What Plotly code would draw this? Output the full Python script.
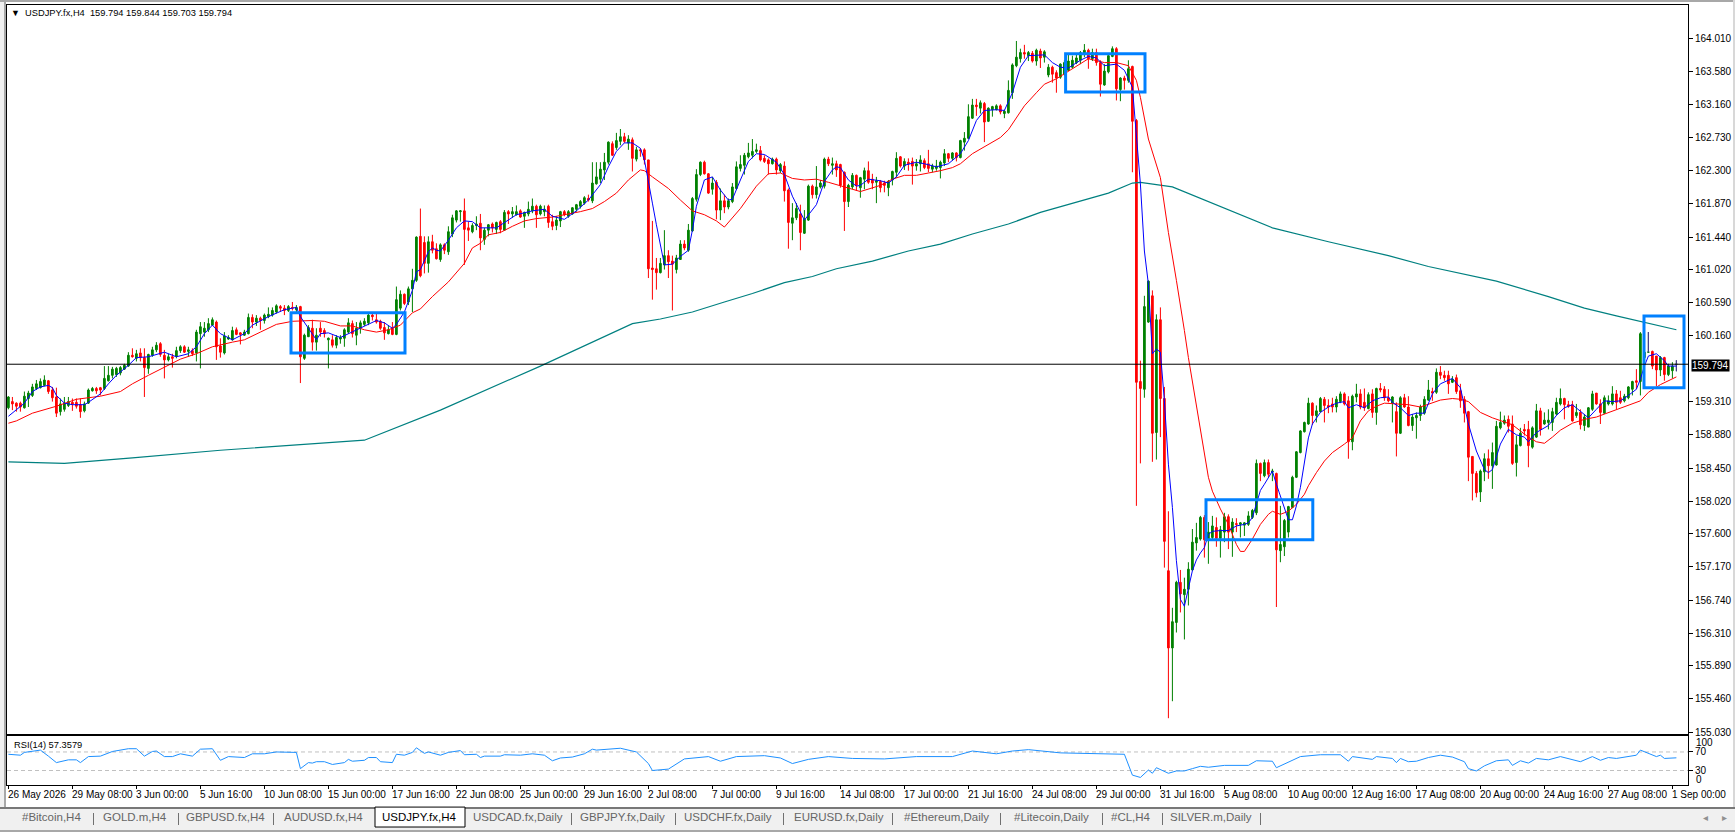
import plotly.graph_objects as go

# ---------- candle values, one row per 16-bar interval between time labels ----------
OPEN = [
159.23,159.31,159.29,159.29,159.23,159.35,159.39,159.48,159.49,159.52,159.58,159.46,159.37,159.18,159.21,159.26,
159.30,159.30,159.27,159.19,159.29,159.45,159.48,159.49,159.48,159.58,159.65,159.66,159.68,159.73,159.77,159.91,
159.87,159.94,159.88,159.74,159.91,159.98,160.06,159.91,159.85,159.89,159.90,159.97,160.02,159.96,159.97,159.94,
160.19,160.21,160.24,160.30,160.34,160.03,159.94,160.12,160.11,160.24,160.20,160.17,160.19,160.40,160.34,160.39,
160.36,160.41,160.43,160.47,160.54,160.52,160.49,160.53,160.50,160.54,159.87,160.15,160.26,160.08,160.26,160.23,
160.11,160.11,160.04,160.12,160.13,160.21,160.32,160.17,160.26,160.31,160.33,160.43,160.37,160.35,160.27,160.19,
160.26,160.18,160.52,160.70,160.60,160.77,160.88,161.45,161.37,161.10,161.38,161.29,161.15,161.34,161.25,161.48,
161.66,161.77,161.78,161.56,161.51,161.59,161.62,161.41,161.53,161.61,161.54,161.64,161.53,161.77,161.74,161.73,
161.78,161.71,161.74,161.78,161.84,161.74,161.77,161.84,161.64,161.59,161.65,161.77,161.71,161.74,161.80,161.84,
161.88,161.94,161.91,162.13,162.19,162.31,162.41,162.65,162.60,162.68,162.74,162.66,162.70,162.45,162.57,162.57,
162.44,161.04,161.03,160.98,161.08,161.20,161.13,161.02,161.15,161.35,161.27,161.52,161.93,162.25,162.41,162.26,
162.06,162.15,161.79,161.91,161.83,161.90,162.07,162.33,162.37,162.48,162.50,162.55,162.56,162.46,162.44,162.39,
162.45,162.30,162.36,162.05,161.62,161.69,161.74,161.49,161.66,162.10,161.99,162.09,162.10,162.45,162.37,162.39,
162.38,162.28,161.90,162.09,162.24,162.08,162.19,162.30,162.19,162.15,162.16,162.14,162.08,162.18,162.28,162.48,
162.36,162.41,162.42,162.36,162.39,162.43,162.39,162.32,162.33,162.34,162.40,162.52,162.46,162.53,162.47,162.67,
162.72,162.98,163.15,163.11,163.17,162.94,163.09,163.09,163.14,163.04,163.05,163.31,163.66,163.75,163.83,163.79,
163.82,163.72,163.85,163.77,163.54,163.64,163.57,163.51,163.55,163.60,163.64,163.70,163.73,163.81,163.86,163.75,
163.83,163.70,163.41,163.58,163.78,163.88,163.35,163.50,163.47,163.65,162.95,159.57,159.47,160.34,160.68,158.91,
160.37,159.35,157.12,156.12,156.45,156.97,156.81,156.88,157.13,157.48,157.53,157.81,157.53,157.55,157.68,157.54,
157.62,157.82,157.62,157.73,157.72,157.71,157.72,157.81,157.87,158.51,158.35,158.52,158.40,158.38,157.38,157.43,
157.62,157.94,158.33,158.65,158.92,159.02,159.29,159.13,159.18,159.34,159.26,159.28,159.24,159.31,159.41,159.32,
158.79,159.37,159.41,159.30,159.22,159.41,159.17,159.48,159.47,159.36,159.29,159.18,158.90,159.36,159.24,159.00,
159.10,159.13,159.16,159.33,159.44,159.43,159.69,159.65,159.65,159.56,159.62,159.45,159.34,159.18,158.60,158.38,
158.14,158.40,158.57,158.48,158.49,158.97,159.03,159.08,159.02,158.52,158.74,158.95,158.95,158.72,158.85,159.19,
159.02,159.04,159.04,159.15,159.28,159.35,159.27,159.27,159.13,159.17,159.00,158.98,159.21,159.42,159.28,159.16,
159.28,159.28,159.41,159.36,159.32,159.36,159.47,159.58,159.57,159.88,159.95,159.96,159.90,159.72,159.88,159.66,
159.71,159.794]
HIGH = [
159.38,159.37,159.30,159.31,159.44,159.45,159.54,159.59,159.61,159.65,159.59,159.50,159.49,159.35,159.37,159.37,
159.35,159.35,159.35,159.31,159.48,159.50,159.50,159.50,159.77,159.77,159.76,159.76,159.77,159.80,159.95,160.00,
159.98,160.00,160.00,159.93,160.02,160.08,160.08,159.98,159.93,159.93,160.02,160.04,160.04,160.02,160.00,160.24,
160.34,160.34,160.39,160.40,160.36,160.13,160.21,160.17,160.28,160.27,160.21,160.24,160.45,160.44,160.43,160.41,
160.45,160.53,160.53,160.57,160.56,160.56,160.56,160.60,160.56,160.55,160.19,160.30,160.37,160.26,160.34,160.26,
160.14,160.17,160.17,160.17,160.26,160.39,160.36,160.34,160.36,160.39,160.45,160.45,160.45,160.37,160.34,160.30,
160.34,160.80,160.75,160.71,160.80,161.03,161.45,161.81,161.45,161.45,161.47,161.36,161.36,161.36,161.58,161.73,
161.79,161.79,161.94,161.64,161.62,161.71,161.74,161.56,161.61,161.63,161.64,161.66,161.79,161.79,161.83,161.85,
161.80,161.77,161.90,161.94,161.86,161.86,161.85,161.86,161.73,161.71,161.78,161.79,161.79,161.83,161.87,161.92,
161.97,161.99,162.41,162.41,162.41,162.53,162.68,162.68,162.79,162.84,162.79,162.76,162.73,162.61,162.59,162.59,
162.44,161.65,161.17,161.17,161.53,161.27,161.20,161.21,161.40,161.40,161.61,161.96,162.32,162.42,162.43,162.27,
162.22,162.18,162.07,161.99,161.94,162.14,162.42,162.50,162.53,162.66,162.71,162.65,162.62,162.50,162.46,162.47,
162.47,162.40,162.42,162.07,161.88,161.88,161.86,161.79,162.12,162.12,162.36,162.18,162.47,162.48,162.47,162.43,
162.39,162.29,162.13,162.27,162.25,162.22,162.34,162.42,162.26,162.22,162.18,162.17,162.18,162.30,162.54,162.49,
162.46,162.46,162.47,162.45,162.50,162.46,162.57,162.39,162.44,162.43,162.58,162.53,162.54,162.54,162.70,162.80,
163.16,163.23,163.23,163.21,163.19,163.12,163.14,163.16,163.16,163.09,163.47,163.69,163.98,163.88,163.93,163.85,
163.85,163.88,163.88,163.86,163.68,163.66,163.60,163.69,163.73,163.81,163.79,163.81,163.85,163.94,163.88,163.88,
163.88,163.73,163.68,163.81,163.91,163.90,163.51,163.53,163.73,163.66,162.97,159.84,160.68,160.88,160.75,160.44,
160.53,159.50,157.89,156.64,156.99,157.13,157.03,157.23,157.66,157.74,157.83,157.84,157.75,157.83,157.81,157.70,
157.87,157.85,157.80,157.80,157.75,157.75,157.89,157.92,158.56,158.52,158.56,158.56,158.44,158.39,157.96,157.79,
157.96,158.35,158.67,158.94,159.05,159.36,159.30,159.26,159.37,159.37,159.34,159.36,159.38,159.44,159.43,159.38,
159.40,159.54,159.47,159.48,159.43,159.47,159.49,159.55,159.51,159.47,159.38,159.30,159.38,159.41,159.38,159.15,
159.17,159.27,159.38,159.59,159.49,159.74,159.77,159.71,159.71,159.64,159.66,159.54,159.38,159.19,158.60,158.41,
158.43,158.64,158.69,158.78,159.06,159.18,159.13,159.13,159.13,158.87,158.97,159.02,159.06,158.99,159.28,159.23,
159.17,159.21,159.23,159.36,159.48,159.36,159.32,159.32,159.28,159.21,159.15,159.24,159.45,159.42,159.34,159.39,
159.39,159.51,159.46,159.45,159.41,159.51,159.58,159.73,160.21,160.19,160.21,159.97,159.90,159.90,159.89,159.80,
159.82,159.844]
LOW = [
159.21,159.20,159.18,159.18,159.22,159.24,159.37,159.46,159.48,159.51,159.41,159.31,159.11,159.13,159.18,159.24,
159.19,159.22,159.10,159.17,159.28,159.44,159.41,159.39,159.46,159.57,159.61,159.63,159.65,159.72,159.76,159.88,
159.83,159.83,159.37,159.67,159.89,159.95,159.89,159.61,159.83,159.75,159.87,159.94,159.94,159.89,159.90,159.83,
159.74,160.15,160.21,160.29,159.85,159.88,159.92,160.11,160.10,160.17,160.05,160.16,160.18,160.26,160.29,160.24,
160.32,160.39,160.41,160.45,160.47,160.43,160.47,160.49,160.47,159.55,159.85,160.15,159.97,159.97,160.15,160.14,
159.74,160.01,160.00,160.06,160.02,160.19,160.14,160.04,160.19,160.29,160.30,160.36,160.32,160.24,160.11,160.18,
160.17,160.17,160.49,160.56,160.56,160.47,160.86,160.92,160.97,160.98,161.23,161.15,161.12,161.22,161.21,161.44,
161.63,161.64,161.08,161.39,161.49,161.53,161.27,161.34,161.45,161.50,161.48,161.49,161.52,161.61,161.69,161.72,
161.69,161.56,161.71,161.75,161.56,161.72,161.71,161.56,161.53,161.53,161.57,161.71,161.69,161.73,161.77,161.81,
161.86,161.90,161.88,162.12,162.14,162.18,162.38,162.49,162.57,162.63,162.66,162.57,162.29,162.42,162.48,162.38,
160.91,160.63,160.76,160.97,161.02,160.91,160.49,160.97,161.15,161.27,161.25,161.51,161.90,162.23,162.25,162.00,
161.99,161.67,161.66,161.75,161.80,161.88,162.05,162.29,162.25,162.46,162.46,162.53,162.42,162.40,162.25,162.38,
162.25,162.27,161.90,161.29,161.40,161.66,161.27,161.48,161.65,161.94,161.94,162.07,162.07,162.36,162.25,162.22,
162.08,161.52,161.83,162.06,162.04,161.95,162.06,162.13,162.06,161.88,162.02,162.02,161.97,162.11,162.21,162.34,
162.31,162.30,162.12,162.30,162.29,162.32,162.28,162.28,162.30,162.20,162.36,162.41,162.43,162.42,162.46,162.56,
162.71,162.97,163.01,163.04,162.67,162.93,163.00,163.08,163.03,162.98,163.04,163.23,163.64,163.70,163.75,163.72,
163.70,163.66,163.63,163.70,163.51,163.44,163.31,163.49,163.53,163.59,163.62,163.68,163.68,163.77,163.62,163.72,
163.66,163.26,163.40,163.56,163.77,163.21,163.20,163.35,163.44,162.28,157.96,158.51,159.36,160.33,158.53,158.56,
158.85,157.16,155.21,155.43,156.32,156.58,156.23,156.67,157.12,157.38,157.51,157.29,157.21,157.53,157.43,157.29,
157.49,157.40,157.30,157.62,157.55,157.57,157.70,157.79,157.84,158.28,158.33,158.33,158.28,156.65,157.23,157.31,
157.55,157.93,158.32,158.64,158.91,159.01,159.01,159.04,159.17,159.04,159.16,159.17,159.17,159.29,159.26,158.57,
158.68,159.30,159.21,159.19,159.21,159.10,159.01,159.43,159.32,159.30,159.04,158.60,158.89,159.23,158.99,158.93,
158.83,159.06,159.14,159.32,159.32,159.41,159.60,159.58,159.41,159.55,159.41,159.23,159.04,158.28,158.03,158.07,
158.01,158.28,158.31,158.18,158.48,158.95,159.01,158.91,158.49,158.34,158.73,158.87,158.46,158.70,158.84,158.87,
159.01,158.95,158.93,159.13,159.26,159.08,159.23,159.05,159.10,158.95,158.93,158.98,159.19,159.27,159.02,159.15,
159.26,159.26,159.21,159.28,159.30,159.34,159.39,159.47,159.39,159.75,159.95,159.73,159.51,159.64,159.58,159.64,
159.61,159.703]
CLOSE = [
159.37,159.28,159.25,159.24,159.38,159.42,159.50,159.54,159.57,159.59,159.44,159.36,159.16,159.28,159.29,159.31,
159.28,159.25,159.18,159.28,159.46,159.48,159.45,159.46,159.61,159.65,159.73,159.74,159.75,159.78,159.91,159.89,
159.93,159.88,159.75,159.92,159.98,160.04,159.92,159.85,159.89,159.87,159.97,160.02,159.95,159.98,159.93,160.21,
160.28,160.26,160.32,160.37,160.02,159.95,160.16,160.14,160.23,160.18,160.18,160.21,160.40,160.34,160.39,160.36,
160.43,160.44,160.49,160.55,160.52,160.49,160.54,160.52,160.53,159.89,160.17,160.27,160.08,160.17,160.21,160.19,
160.13,160.04,160.14,160.14,160.24,160.33,160.19,160.26,160.33,160.35,160.43,160.41,160.34,160.26,160.20,160.24,
160.18,160.63,160.70,160.58,160.77,160.88,161.44,160.94,161.10,161.38,161.27,161.16,161.34,161.27,161.51,161.69,
161.78,161.78,161.54,161.53,161.59,161.61,161.43,161.53,161.60,161.56,161.63,161.54,161.76,161.74,161.77,161.77,
161.70,161.76,161.80,161.84,161.73,161.84,161.80,161.63,161.58,161.66,161.77,161.73,161.77,161.82,161.86,161.90,
161.95,161.92,162.14,162.22,162.32,162.41,162.67,162.50,162.69,162.74,162.68,162.71,162.46,162.57,162.56,162.44,
161.03,161.02,160.98,161.10,161.20,161.12,161.09,161.17,161.35,161.30,161.53,161.94,162.25,162.41,162.26,162.01,
162.14,161.79,161.91,161.83,161.91,162.09,162.35,162.38,162.50,162.53,162.55,162.57,162.44,162.42,162.39,162.45,
162.31,162.38,162.04,161.63,161.69,161.81,161.50,161.67,162.10,161.99,162.09,162.14,162.45,162.39,162.39,162.31,
162.11,161.90,162.11,162.24,162.11,162.21,162.30,162.15,162.14,162.17,162.08,162.11,162.16,162.29,162.46,162.36,
162.42,162.39,162.36,162.39,162.44,162.34,162.33,162.36,162.36,162.41,162.52,162.46,162.53,162.47,162.69,162.72,
163.00,163.15,163.13,163.18,162.93,163.11,163.13,163.14,163.06,163.07,163.34,163.67,163.77,163.83,163.81,163.83,
163.72,163.86,163.76,163.84,163.64,163.55,163.50,163.68,163.70,163.72,163.73,163.76,163.83,163.86,163.75,163.83,
163.70,163.42,163.59,163.79,163.88,163.36,163.50,163.47,163.62,162.94,159.56,159.48,160.54,160.87,158.90,160.37,
159.35,157.50,156.12,156.46,156.97,156.82,156.88,157.14,157.49,157.55,157.81,157.52,157.62,157.70,157.54,157.65,
157.82,157.62,157.75,157.72,157.74,157.74,157.83,157.90,158.51,158.38,158.52,158.37,158.41,157.39,157.46,157.77,
157.95,158.33,158.66,158.93,159.04,159.29,159.13,159.19,159.35,159.26,159.24,159.24,159.34,159.41,159.28,158.79,
159.38,159.41,159.24,159.23,159.40,159.17,159.48,159.46,159.36,159.32,159.37,158.90,159.36,159.24,159.00,159.11,
159.13,159.24,159.34,159.46,159.42,159.69,159.65,159.62,159.54,159.60,159.44,159.32,159.16,158.59,158.38,158.13,
158.41,158.57,158.48,158.65,158.99,159.04,159.07,158.99,158.51,158.75,158.90,158.93,158.74,158.97,159.19,158.95,
159.07,159.07,159.18,159.30,159.35,159.27,159.25,159.06,159.17,159.01,159.11,159.23,159.41,159.28,159.17,159.36,
159.32,159.41,159.30,159.30,159.38,159.50,159.57,159.56,160.19,159.95,159.95,159.77,159.72,159.88,159.66,159.77,
159.77,159.794]
assert len(OPEN) == len(HIGH) == len(LOW) == len(CLOSE) == 418
BARS = list(range(len(OPEN)))
DOJI_BARS = [410, 417]

# ---------- moving averages: (bar, price) ----------
BLUE_BAR = [0,4,6,8,10,11,12,14,16,19,20,23,25,27,30,32,35,39,42,45,47,49,51,53,56,59,61,65,69,72,73,77,78,80,83,85,88,92,94,96,97,99,101,102,
103,105,106,107,108,110,112,114,116,118,122,125,127,131,134,136,139,142,145,148,150,152,154,156,158,159,160,161,162,163,164,166,168,170,171,172,173,174,176,178,180,181,183,185,187,189,192,194,196,199,202,204,206,207,
208,210,212,213,215,218,220,222,224,227,229,232,235,238,240,242,244,247,249,251,253,255,259,261,263,265,268,270,272,274,277,279,281,282,283,284,285,286,287,288,289,290,291,292,293,294,295,296,297,298,
299,300,301,303,305,307,309,310,311,312,313,314,315,316,317,318,319,320,321,322,323,324,325,326,328,330,332,334,335,337,339,341,343,345,346,348,350,352,354,356,358,361,363,365,367,369,370,371,373,375,377,379,380,382,385,
387,389,391,393,395,397,399,401,403,405,407,408,409,410,412,414,415,417]
BLUE_VAL = [159.12,159.29,159.44,159.50,159.52,159.49,159.39,159.29,159.27,159.27,159.30,159.41,159.54,159.65,159.78,159.88,159.89,159.95,159.89,159.93,160.02,160.19,160.30,160.19,160.11,160.19,160.30,160.41,160.50,160.53,160.41,160.11,160.19,160.20,160.14,160.19,160.27,160.36,160.33,160.26,160.31,160.47,160.75,160.99,
161.02,161.25,161.30,161.27,161.26,161.40,161.56,161.65,161.64,161.56,161.56,161.66,161.73,161.78,161.80,161.71,161.67,161.78,161.92,162.12,162.35,162.55,162.66,162.66,162.59,162.44,162.18,161.88,161.60,161.34,161.08,161.09,161.19,161.27,161.53,161.84,162.01,162.18,162.22,162.05,161.92,161.93,162.18,162.42,162.52,162.51,162.41,162.25,161.97,161.66,161.86,162.16,162.31,162.35,
162.34,162.18,162.10,162.11,162.19,162.17,162.14,162.22,162.37,162.41,162.39,162.35,162.39,162.52,162.69,162.95,163.08,163.09,163.08,163.31,163.64,163.79,163.80,163.70,163.64,163.63,163.73,163.78,163.76,163.66,163.68,163.60,163.38,162.73,162.13,161.26,160.83,159.93,159.99,159.95,159.32,158.50,157.94,157.25,156.75,156.66,156.88,157.12,157.26,157.35,
157.42,157.59,157.63,157.64,157.64,157.70,157.72,157.74,157.81,157.98,158.16,158.24,158.33,158.41,158.24,158.09,157.92,157.78,157.78,157.96,158.20,158.50,158.84,159.02,159.17,159.24,159.29,159.31,159.23,159.27,159.23,159.32,159.36,159.37,159.30,159.23,159.13,159.16,159.16,159.41,159.54,159.61,159.49,159.02,158.67,158.43,158.39,158.43,158.76,158.95,158.88,158.85,158.79,158.91,159.00,
159.13,159.23,159.27,159.19,159.10,159.21,159.32,159.31,159.32,159.39,159.47,159.60,159.77,159.90,159.93,159.84,159.77,159.77]
RED_BAR = [0,2,6,12,17,23,28,31,35,39,43,47,51,56,59,63,67,71,76,79,83,86,89,92,95,98,101,103,106,110,114,116,118,120,123,126,129,132,136,139,143,146,149,152,155,158,159,161,165,168,171,174,177,179,183,187,190,193,196,199,202,205,207,
208,213,218,221,224,227,230,233,236,238,241,245,248,250,252,254,257,259,262,266,270,274,277,280,282,283,285,288,290,292,293,294,295,296,298,300,301,303,305,307,308,309,311,313,315,316,318,320,322,324,325,327,329,331,334,336,338,340,342,344,347,350,353,356,358,361,363,365,368,371,374,376,378,380,382,384,386,388,391,394,397,402,405,408,410,413,417]
RED_VAL = [159.03,159.06,159.16,159.25,159.34,159.38,159.44,159.54,159.65,159.76,159.86,159.93,160.02,160.08,160.11,160.21,160.31,160.35,160.36,160.35,160.29,160.29,160.24,160.21,160.24,160.30,160.46,160.51,160.67,160.86,161.10,161.30,161.36,161.47,161.50,161.58,161.65,161.68,161.70,161.73,161.77,161.81,161.90,162.01,162.18,162.31,162.30,162.22,162.07,161.92,161.78,161.73,161.65,161.57,161.81,162.10,162.26,162.27,162.20,162.18,162.19,162.15,162.12,
162.10,162.03,162.11,162.19,162.24,162.24,162.27,162.30,162.34,162.39,162.52,162.64,162.73,162.83,162.99,163.14,163.31,163.42,163.49,163.62,163.75,163.70,163.70,163.66,163.47,163.25,162.71,162.21,161.50,160.88,160.57,160.23,159.88,159.56,158.93,158.33,158.15,157.92,157.72,157.46,157.37,157.37,157.53,157.72,157.85,157.89,157.85,157.89,157.98,158.11,158.22,158.39,158.54,158.65,158.76,158.84,159.06,159.19,159.25,159.29,159.28,159.27,159.24,159.30,159.33,159.35,159.34,159.31,159.17,159.10,159.04,159.01,158.93,158.85,158.79,158.77,158.85,158.94,159.03,159.08,159.11,159.21,159.26,159.32,159.43,159.53,159.63]
TEAL_BAR = [0,14,31,53,89,108,133,156,163,171,179,186,194,201,207,216,225,233,241,250,258,266,275,281,283,291,316,330,345,355,372,385,394,402,409,417]
TEAL_VAL = [158.53,158.51,158.58,158.68,158.81,159.20,159.77,160.32,160.38,160.47,160.60,160.71,160.85,160.93,161.03,161.13,161.26,161.35,161.48,161.61,161.76,161.88,162.01,162.14,162.15,162.09,161.56,161.38,161.20,161.06,160.87,160.67,160.52,160.42,160.34,160.24]

# ---------- RSI(14) ----------
RSI_BAR = [0,3,4,7,8,10,12,15,17,18,20,23,26,30,32,34,36,37,39,41,43,46,48,51,53,55,59,61,64,67,72,73,75,76,77,79,81,84,85,86,89,90,92,93,96,97,99,101,102,104,105,108,110,113,114,117,118,119,123,124,128,131,134,136,138,141,144,146,
147,153,157,160,161,165,169,175,178,182,189,193,196,200,205,211,219,227,236,241,247,251,255,263,272,279,
281,283,285,286,287,290,292,294,296,298,300,304,310,312,316,317,323,328,333,335,336,341,342,346,347,348,350,352,355,358,361,364,365,367,369,372,375,376,378,380,382,385,388,393,396,398,400,402,407,408,412,413,414,417]
RSI_VAL = [65,63,69,72,74,61,47,53,53,47,60,61,71,77,77,61,71,72,60,60,66,61,76,77,52,60,58,66,66,70,69,34,47,46,49,49,43,47,54,50,52,58,58,49,47,65,63,69,79,67,70,63,69,73,64,65,58,61,61,64,63,66,63,51,57,59,66,76,
74,78,70,45,30,33,55,60,50,60,62,57,45,54,60,56,55,60,60,72,66,72,75,68,67,65,
20,15,31,24,36,24,29,29,34,39,37,41,41,51,50,36,60,64,64,50,60,54,60,56,47,56,49,50,58,63,59,49,34,29,40,51,53,41,51,46,56,53,60,49,60,52,58,56,63,74,60,63,56,57.36]
RSI_LEVELS = [70, 30]

# ---------- axis labels ----------
TIME_LABELS = ["26 May 2026","29 May 08:00","3 Jun 00:00","5 Jun 16:00","10 Jun 08:00","15 Jun 00:00","17 Jun 16:00",
    "22 Jun 08:00","25 Jun 00:00","29 Jun 16:00","2 Jul 08:00","7 Jul 00:00","9 Jul 16:00","14 Jul 08:00","17 Jul 00:00",
    "21 Jul 16:00","24 Jul 08:00","29 Jul 00:00","31 Jul 16:00","5 Aug 08:00","10 Aug 00:00","12 Aug 16:00","17 Aug 08:00",
    "20 Aug 00:00","24 Aug 16:00","27 Aug 08:00","1 Sep 00:00"]
TIME_TICK_BARS = [i * 16 for i in range(len(TIME_LABELS))]
PRICE_TICKS = [164.010,163.580,163.160,162.730,162.300,161.870,161.440,161.020,160.590,160.160,159.310,158.880,158.450,
    158.020,157.600,157.170,156.740,156.310,155.890,155.460,155.030]
LAST_PRICE = 159.794
HEADER = "USDJPY.fx,H4  159.794 159.844 159.703 159.794"
RSI_TITLE = "RSI(14) 57.3579"
TABS = ["#Bitcoin,H4","GOLD.m,H4","GBPUSD.fx,H4","AUDUSD.fx,H4","USDJPY.fx,H4","USDCAD.fx,Daily","GBPJPY.fx,Daily",
    "USDCHF.fx,Daily","EURUSD.fx,Daily","#Ethereum,Daily","#Litecoin,Daily","#CL,H4","SILVER.m,Daily"]
TAB_CENTERS = [51,135,225,323,419,518,622,728,839,946,1051,1131,1211]
TAB_SEPS = [93,178,273,571,675,783,892,1000,1102,1162,1260]

# rectangles the author drew on the chart: bar range, price range
BOX_BAR_L = [70.65,264.3,299.4,408.9]
BOX_BAR_R = [99.15,284.15,326.1,418.9]
BOX_TOP = [160.46,163.816,158.04,160.42]
BOX_BOT = [159.94,163.32,157.52,159.49]

W, H = 1735, 836
FONT = "Liberation Sans"
px = lambda x: x / W
py = lambda y: 1 - y / H
GREEN, RED = "#008000", "#ff0000"

fig = go.Figure()
fig.add_trace(go.Candlestick(
    x=BARS, open=OPEN, high=HIGH, low=LOW, close=CLOSE, xaxis="x", yaxis="y", whiskerwidth=0,
    increasing=dict(line=dict(color=GREEN, width=1), fillcolor=GREEN),
    decreasing=dict(line=dict(color=RED, width=1), fillcolor=RED), showlegend=False))
dx, dy = [], []
for b in DOJI_BARS:
    dx += [b, b, None]
    dy += [HIGH[b], LOW[b], None]
fig.add_trace(go.Scatter(x=dx, y=dy, mode="lines", line=dict(color="#483d8b", width=1.2), showlegend=False))
fig.add_trace(go.Scatter(x=TEAL_BAR, y=TEAL_VAL, mode="lines", line=dict(color="#008080", width=1.2), showlegend=False))
fig.add_trace(go.Scatter(x=RED_BAR, y=RED_VAL, mode="lines", line=dict(color=RED, width=1), showlegend=False))
fig.add_trace(go.Scatter(x=BLUE_BAR, y=BLUE_VAL, mode="lines", line=dict(color="#0000ff", width=1), showlegend=False))
fig.add_trace(go.Scatter(x=RSI_BAR, y=RSI_VAL, mode="lines", xaxis="x2", yaxis="y2",
                         line=dict(color="#1e90ff", width=1), showlegend=False))

shapes = []
def rect(x0, y0, x1, y1, fill, line=None, layer="below"):
    shapes.append(dict(type="rect", xref="paper", yref="paper", x0=px(x0), x1=px(x1), y0=py(y0), y1=py(y1),
                       fillcolor=fill, line=dict(width=0 if line is None else 1, color=line or fill), layer=layer))
rect(0, 0, 4, 810, "#f0f0f0")
rect(4, 0, 6, 810, "#a8a8a8")
rect(0, 0, 1735, 2, "#a8a8a8")
rect(1733, 0, 1735, 810, "#d8d8d8")
rect(0, 810, 1735, 833, "#f0f0f0")
rect(0, 810.5, 1735, 811.5, "#000000")
rect(0, 833, 1735, 835, "#a8a8a8")
rect(375, 810, 465, 830, "#ffffff", "#000000", layer="above")
for s in TAB_SEPS:
    rect(s, 816, s + 1, 828, "#707070")
for l, r, t, b in zip(BOX_BAR_L, BOX_BAR_R, BOX_TOP, BOX_BOT):
    shapes.append(dict(type="rect", xref="x", yref="y", x0=l, x1=r, y0=b, y1=t,
                       line=dict(color="#0080ff", width=3), layer="above"))
shapes.append(dict(type="line", xref="x domain", yref="y", x0=0, x1=1, y0=LAST_PRICE, y1=LAST_PRICE,
                   line=dict(color="#000000", width=1), layer="above"))
for lv in RSI_LEVELS:
    shapes.append(dict(type="line", xref="x2 domain", yref="y2", x0=0, x1=1, y0=lv, y1=lv,
                       line=dict(color="#c0c0c0", width=1, dash="4px,3px"), layer="below"))

ann = []
def text(x, y, s, size=10, color="#000000", anchor="left", **kw):
    ann.append(dict(xref="paper", yref="paper", x=px(x), y=py(y), text=s, showarrow=False, xanchor=anchor,
                    yanchor="middle", font=dict(family=FONT, size=size, color=color), **kw))
text(9, 13.5, "▼", size=9)
text(23, 13.5, HEADER.replace("  ", "&nbsp;&nbsp;"), size=9.3)
text(12, 748, RSI_TITLE, size=9.3)
text(1694, 745.5, "100")
text(1694, 782, "0")
text(1691, 366.5, f"{LAST_PRICE:.3f}", color="#ffffff", bgcolor="#000000", borderpad=0)
for name, c in zip(TABS, TAB_CENTERS):
    text(c, 820, name, size=11.5, color="#000000" if name == "USDJPY.fx,H4" else "#666666", anchor="center")
text(1705, 820, "◂", size=10, color="#909090", anchor="center")
text(1724, 820, "▸", size=10, color="#909090", anchor="center")
for b, lab in zip(TIME_TICK_BARS, TIME_LABELS):
    ann.append(dict(xref="x2", yref="paper", x=b, y=py(797.5), text=lab, showarrow=False, xanchor="left", xshift=-2,
                    yanchor="middle", font=dict(family=FONT, size=10, color="#000000")))

X_RANGE = [-0.35, 419.9]
axis_line = dict(showline=True, linecolor="#000000", linewidth=1, mirror=True, showgrid=False, zeroline=False)
fig.update_layout(
    width=W, height=H, autosize=False, margin=dict(l=0, r=0, t=0, b=0),
    paper_bgcolor="#ffffff", plot_bgcolor="#ffffff", showlegend=False, boxgap=0.4, hovermode=False,
    font=dict(family=FONT, size=10, color="#000000"),
    xaxis=dict(domain=[px(7), px(1688)], range=X_RANGE, anchor="y", rangeslider=dict(visible=False),
               showticklabels=False, ticks="", **axis_line),
    yaxis=dict(domain=[py(737), py(5)], range=[155.001, 164.446], side="right", anchor="x",
               tickmode="array", tickvals=PRICE_TICKS, ticktext=[f"{v:.3f}" for v in PRICE_TICKS],
               ticks="outside", ticklen=4, tickcolor="#000000", **axis_line),
    xaxis2=dict(domain=[px(7), px(1688)], range=X_RANGE, anchor="y2", tickmode="array", tickvals=TIME_TICK_BARS,
                ticktext=[""] * len(TIME_TICK_BARS), ticks="outside", ticklen=3, tickcolor="#000000", **axis_line),
    yaxis2=dict(domain=[py(788), py(739)], range=[-1.7, 103.7], side="right", anchor="x2",
                tickmode="array", tickvals=RSI_LEVELS, ticktext=[str(v) for v in RSI_LEVELS],
                ticks="outside", ticklen=4, tickcolor="#000000", **axis_line),
    shapes=shapes, annotations=ann,
)
fig.write_html("out.html", config=dict(displayModeBar=False),
               post_script="document.body.style.margin='0';document.documentElement.style.overflow='hidden';")
